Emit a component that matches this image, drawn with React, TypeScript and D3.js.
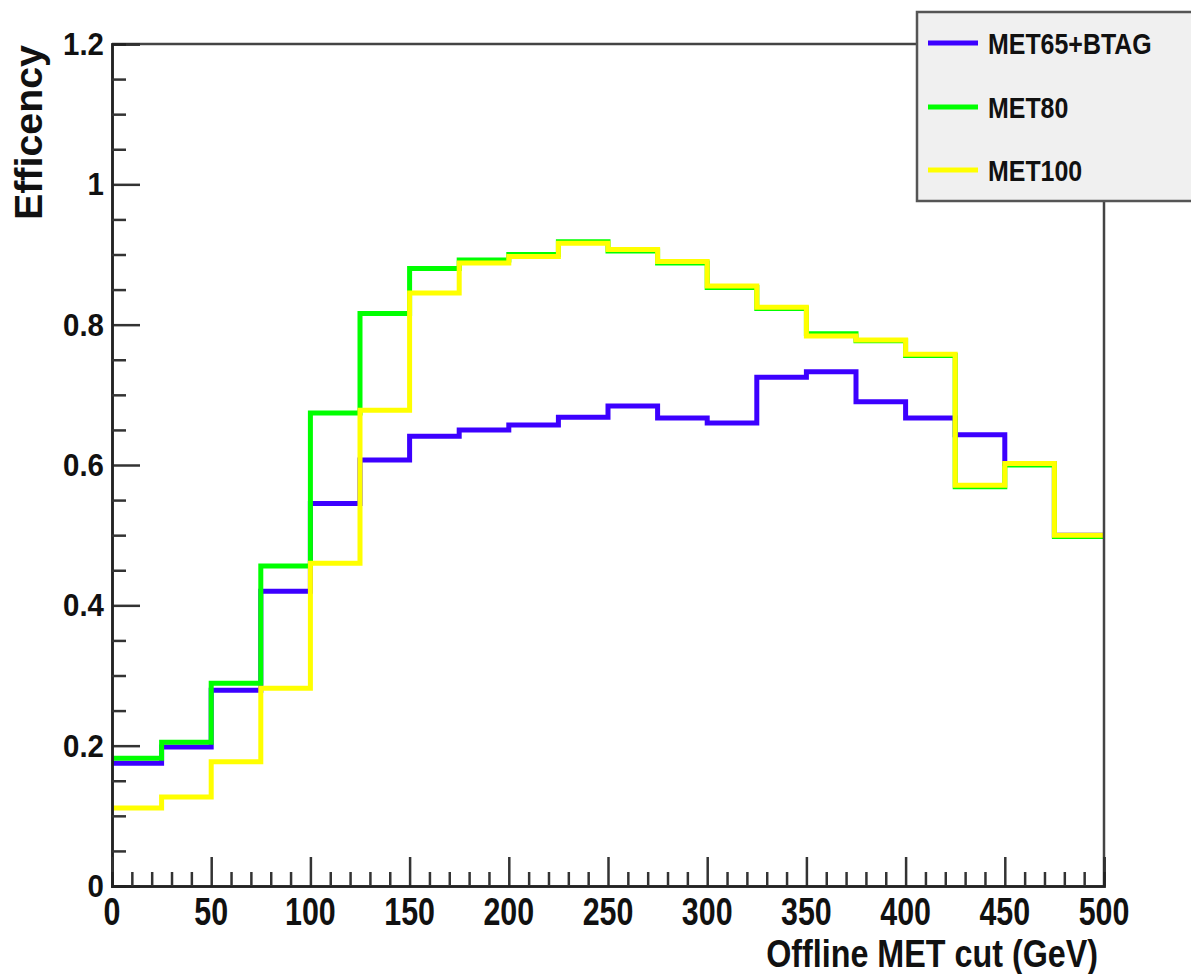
import React, { useEffect, useRef } from 'react';
import * as d3 from 'd3';

// bin edges (GeV), 25 GeV wide bins
const binEdges = d3.range(0, 501, 25);
const xTickValues = [0, 50, 100, 150, 200, 250, 300, 350, 400, 450, 500];
const yTickValues = [0, 0.2, 0.4, 0.6, 0.8, 1, 1.2];

const met65btag = [0.175, 0.198, 0.279, 0.42, 0.545, 0.607, 0.641, 0.65, 0.657, 0.668, 0.684, 0.667, 0.66, 0.725, 0.733, 0.69, 0.667, 0.643, 0.602, 0.5];
const met80 = [0.182, 0.205, 0.289, 0.456, 0.674, 0.816, 0.88, 0.892, 0.9, 0.918, 0.905, 0.888, 0.853, 0.823, 0.787, 0.777, 0.756, 0.569, 0.6, 0.498];
const met100 = [0.111, 0.127, 0.177, 0.282, 0.46, 0.678, 0.845, 0.888, 0.897, 0.916, 0.907, 0.89, 0.855, 0.825, 0.784, 0.778, 0.758, 0.571, 0.602, 0.5];

const seriesNames = ['MET65+BTAG', 'MET80', 'MET100'];
const seriesColors = ['#3c00ff', '#00ff00', '#ffff00'];

const App = () => {
  const svgRef = useRef<SVGSVGElement>(null);

  useEffect(() => {
    const width = 1191;
    const height = 974;
    const plot = { left: 112, right: 1104, top: 44, bottom: 886 };
    const font = '"Liberation Sans", Arial, sans-serif';

    const svg = d3.select(svgRef.current);
    svg.selectAll('*').remove();
    svg.attr('width', width).attr('height', height);

    svg.append('rect').attr('width', width).attr('height', height).attr('fill', '#fff');

    const x = d3.scaleLinear().domain([0, 500]).range([plot.left, plot.right]);
    const y = d3.scaleLinear().domain([0, 1.2]).range([plot.bottom, plot.top]);

    // condensed bold text (squeezed horizontally like the ROOT canvas)
    const label = (px: number, py: number, txt: string, size: number, sx: number, anchor: string) =>
      svg
        .append('text')
        .attr('transform', `translate(${px},${py}) scale(${sx},1)`)
        .attr('text-anchor', anchor)
        .attr('font-family', font)
        .attr('font-weight', 'bold')
        .attr('font-size', size)
        .attr('fill', '#111')
        .text(txt);

    // step histograms (blue first, yellow on top)
    const step = d3
      .line<[number, number]>()
      .x((d) => x(d[0]))
      .y((d) => y(d[1]))
      .curve(d3.curveStepAfter);

    [met65btag, met80, met100].forEach((vals, i) => {
      const pts: [number, number][] = vals.map((v, j) => [binEdges[j], v]);
      pts.push([binEdges[vals.length], vals[vals.length - 1]]);
      svg
        .append('path')
        .datum(pts)
        .attr('fill', 'none')
        .attr('stroke', seriesColors[i])
        .attr('stroke-width', 5)
        .attr('d', step);
    });

    // frame: top and right
    svg
      .append('line')
      .attr('x1', plot.left)
      .attr('x2', plot.right)
      .attr('y1', plot.top)
      .attr('y2', plot.top)
      .attr('stroke', '#444')
      .attr('stroke-width', 2.5);
    svg
      .append('line')
      .attr('x1', plot.right)
      .attr('x2', plot.right)
      .attr('y1', plot.top)
      .attr('y2', plot.bottom)
      .attr('stroke', '#444')
      .attr('stroke-width', 2.5);

    // Y axis with ROOT style ticks
    const yAxis = d3
      .axisRight(y)
      .tickValues(yTickValues)
      .tickSize(28)
      .tickFormat(() => '');
    const yMinor = d3
      .axisRight(y)
      .tickValues(d3.range(0, 1.2001, 0.05).filter((v) => Math.abs(v / 0.2 - Math.round(v / 0.2)) > 0.01))
      .tickSize(14)
      .tickFormat(() => '');
    [yAxis, yMinor].forEach((ax) => {
      const g = svg.append('g').attr('transform', `translate(${plot.left},0)`).call(ax);
      g.select('.domain').attr('stroke', '#222').attr('stroke-width', 2.5);
      g.selectAll('.tick line').attr('stroke', '#333').attr('stroke-width', 2.5);
    });

    yTickValues.forEach((d) => label(plot.left - 8, y(d) + 11, d3.format('~g')(d), 31, 0.95, 'end'));

    // X axis
    const xAxis = d3
      .axisTop(x)
      .tickValues(xTickValues)
      .tickSize(29)
      .tickFormat(() => '');
    const xMinor = d3
      .axisTop(x)
      .tickValues(d3.range(10, 500, 10).filter((v) => v % 50 !== 0))
      .tickSize(14)
      .tickFormat(() => '');
    [xAxis, xMinor].forEach((ax) => {
      const g = svg.append('g').attr('transform', `translate(0,${plot.bottom})`).call(ax);
      g.select('.domain').attr('stroke', '#222').attr('stroke-width', 2.5);
      g.selectAll('.tick line').attr('stroke', '#333').attr('stroke-width', 2.5);
    });

    xTickValues.forEach((d) => label(x(d), plot.bottom + 39, String(d), 38, 0.8, 'middle'));

    // axis titles
    label(1098, 967, 'Offline MET cut (GeV)', 38, 0.85, 'end');

    svg
      .append('text')
      .attr('transform', 'translate(42,45) rotate(-90)')
      .attr('text-anchor', 'end')
      .attr('font-family', font)
      .attr('font-weight', 'bold')
      .attr('font-size', 38)
      .attr('textLength', 175)
      .attr('lengthAdjust', 'spacingAndGlyphs')
      .attr('fill', '#111')
      .text('Efficency');

    // legend
    const legend = svg.append('g');
    legend
      .append('rect')
      .attr('x', 917)
      .attr('y', 12)
      .attr('width', 300)
      .attr('height', 189)
      .attr('fill', '#f0f0f0')
      .attr('stroke', '#555')
      .attr('stroke-width', 2.5);

    const rowY = [43, 107, 170];
    seriesNames.forEach((name, i) => {
      legend
        .append('line')
        .attr('x1', 928)
        .attr('x2', 978)
        .attr('y1', rowY[i])
        .attr('y2', rowY[i])
        .attr('stroke', seriesColors[i])
        .attr('stroke-width', 5);
      label(988, rowY[i] + 11, name, 29, 0.86, 'start');
    });
  }, []);

  return <svg ref={svgRef} style={{ position: 'absolute', left: 0, top: 0 }}></svg>;
};

export default App;
